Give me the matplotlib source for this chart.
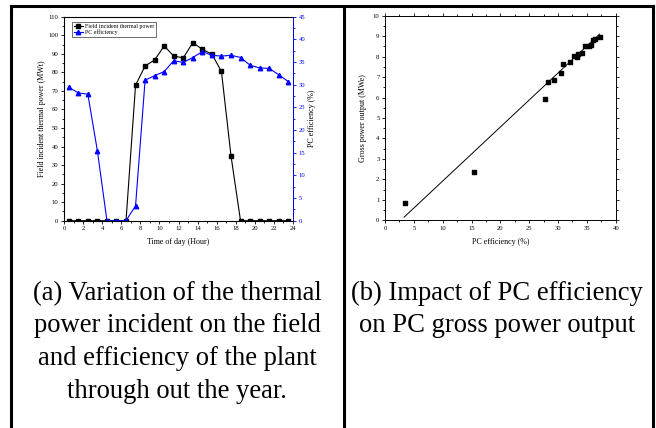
import matplotlib
matplotlib.use('Agg')
from matplotlib import pyplot as plt
from matplotlib.lines import Line2D
from matplotlib.ticker import MultipleLocator
import numpy as np

plt.rcParams['font.family'] = 'Liberation Serif'

# (a) hourly values
hour = [0.5, 1.5, 2.5, 3.5, 4.5, 5.5, 6.5, 7.5, 8.5, 9.5, 10.5, 11.5,
        12.5, 13.5, 14.5, 15.5, 16.5, 17.5, 18.5, 19.5, 20.5, 21.5, 22.5, 23.5]
thermal_power = [0, 0, 0, 0, 0, 0, 0, 73.1, 83.4, 86.7, 94.2, 88.8,
                 87.8, 96.0, 92.4, 89.8, 80.5, 35.0, 0, 0, 0, 0, 0, 0]
pc_eff = [29.4, 28.2, 27.9, 15.4, 0, 0, 0, 3.3, 31.0, 32.0, 32.9, 35.3,
          34.9, 36.0, 37.3, 36.5, 36.3, 36.5, 36.0, 34.3, 33.7, 33.6, 32.2, 30.7]

# (b) efficiency vs gross output
eff_pts = [3.4, 15.5, 27.8, 28.2, 29.3, 30.6, 30.9, 32.1, 32.8, 33.3,
           33.5, 34.1, 34.7, 35.3, 35.8, 36.0, 36.4, 37.2]
gross_pts = [0.83, 2.35, 5.95, 6.78, 6.88, 7.22, 7.62, 7.75, 8.05, 7.98,
             8.12, 8.2, 8.52, 8.52, 8.55, 8.82, 8.88, 8.98]
fit_x = [3.3, 37.2]
fit_y = [0.15, 9.1]

fig = plt.figure(figsize=(6.56, 4.28), dpi=100)

tick_fs = 4.8
lab_fs = 5.8

# ---- left chart
ax1 = fig.add_axes([64/656, 1-220.7/428, 229/656, 204/428])
ax1.plot(hour, thermal_power, color='black', marker='s', ms=2.8, lw=0.8,
         label='Field incident thermal power')
ax1.set_xlim(0, 24)
ax1.set_ylim(0, 110)
ax1.xaxis.set_major_locator(MultipleLocator(2))
ax1.xaxis.set_minor_locator(MultipleLocator(1))
ax1.yaxis.set_major_locator(MultipleLocator(10))
ax1.yaxis.set_minor_locator(MultipleLocator(5))
ax1.tick_params(which='both', direction='out', labelsize=tick_fs, width=0.6, pad=1.5)
ax1.tick_params(which='major', length=2.5)
ax1.tick_params(which='minor', length=1.5)
ax1.set_xlabel('Time of day (Hour)', fontsize=lab_fs, labelpad=5)
ax1.set_ylabel('Field incident thermal power (MWt)', fontsize=lab_fs, labelpad=2)
for s in ax1.spines.values():
    s.set_linewidth(0.7)

ax2 = ax1.twinx()
ax2.plot(hour, pc_eff, color='blue', marker='^', ms=3.2, lw=0.8, label='PC efficiency')
ax2.set_ylim(0, 45)
ax2.yaxis.set_major_locator(MultipleLocator(5))
ax2.yaxis.set_minor_locator(MultipleLocator(2.5))
ax2.tick_params(which='both', direction='out', labelsize=tick_fs, width=0.6, pad=1.5,
                colors='blue')
ax2.tick_params(which='major', length=2.5)
ax2.tick_params(which='minor', length=1.5)
ax2.spines['right'].set_color('blue')
ax2.spines['right'].set_linewidth(0.7)
ax2.set_ylabel('PC efficiency (%)', fontsize=lab_fs, color='black', labelpad=2)

h1, l1 = ax1.get_legend_handles_labels()
h2, l2 = ax2.get_legend_handles_labels()
leg = ax2.legend(h1 + h2, l1 + l2, loc='upper left', bbox_to_anchor=(0.035, 0.975),
                 fontsize=4.2, frameon=True, fancybox=False, edgecolor='black',
                 handlelength=1.6, handletextpad=0.3, borderpad=0.3, labelspacing=0.2,
                 borderaxespad=0)
leg.get_frame().set_linewidth(0.5)

# ---- right chart
ax3 = fig.add_axes([385/656, 1-220.3/428, 230.7/656, 204.6/428])
ax3.scatter(eff_pts, gross_pts, marker='s', s=9, color='black', zorder=3)
ax3.plot(fit_x, fit_y, color='black', lw=0.7)
ax3.set_xlim(0, 40)
ax3.set_ylim(0, 10)
ax3.xaxis.set_major_locator(MultipleLocator(5))
ax3.xaxis.set_minor_locator(MultipleLocator(2.5))
ax3.yaxis.set_major_locator(MultipleLocator(1))
ax3.yaxis.set_minor_locator(MultipleLocator(0.5))
ax3.tick_params(which='both', direction='out', labelsize=tick_fs, width=0.6, pad=1.5,
                top=True, right=True)
ax3.tick_params(which='major', length=2.5)
ax3.tick_params(which='minor', length=1.5)
ax3.set_xlabel('PC efficiency (%)', fontsize=lab_fs, labelpad=5)
ax3.set_ylabel('Gross power output (MWe)', fontsize=lab_fs, labelpad=4)
for s in ax3.spines.values():
    s.set_linewidth(0.7)

# ---- table borders
W, H = 656, 428
bw = 2.2
for xs, ys in [([11, 653], [6, 6]), ([11, 11], [6, 428]),
               ([343.5, 343.5], [6, 428]), ([653, 653], [6, 428])]:
    fig.add_artist(Line2D([x / W for x in xs], [1 - y / H for y in ys],
                          color='black', lw=bw, transform=fig.transFigure))

# ---- captions
cap_a = ['(a) Variation of the thermal', 'power incident on the field',
         'and efficiency of the plant', 'through out the year.']
cap_b = ['(b) Impact of PC efficiency', 'on PC gross power output']
base = [300, 332.5, 365, 397.5]
for i, t in enumerate(cap_a):
    fig.text(177 / W, 1 - base[i] / H, t, ha='center', va='baseline', fontsize=19.2)
for i, t in enumerate(cap_b):
    fig.text(497 / W, 1 - base[i] / H, t, ha='center', va='baseline', fontsize=19.2)

fig.savefig('out.png', dpi=100)
